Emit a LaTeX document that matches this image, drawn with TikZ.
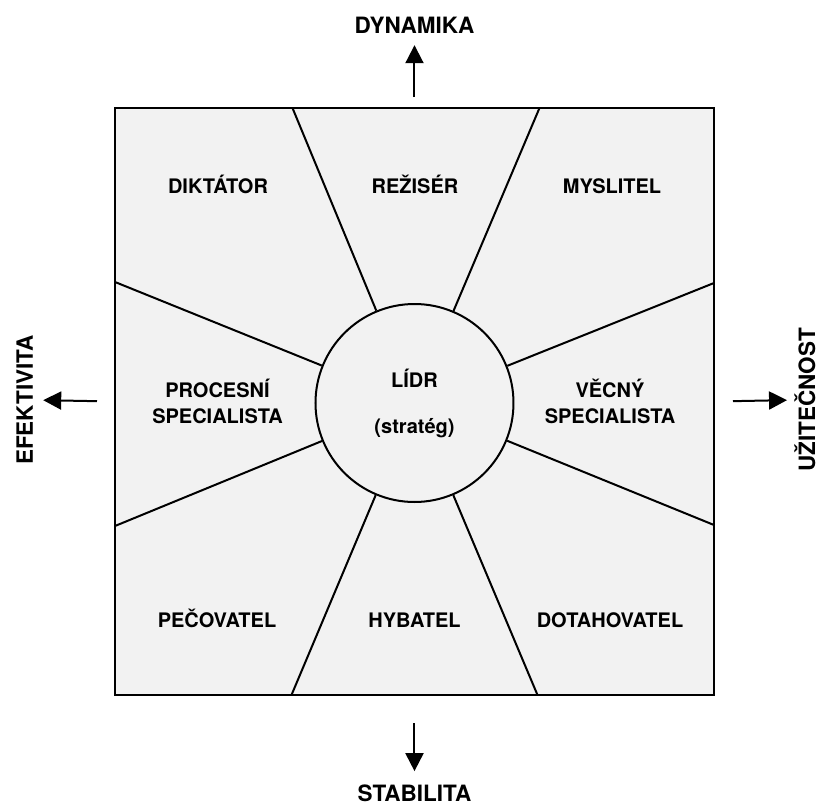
\documentclass[tikz,border=0pt]{standalone}
\usepackage{fontspec}
\setmainfont{TeX Gyre Heros}
\usepackage{tikz}
\usetikzlibrary{arrows.meta,positioning}
\definecolor{stipple}{gray}{0.95}

\begin{document}
\begin{tikzpicture}[x=10pt, y=10pt,
    divider/.style={line width=2pt},
    rolename/.style={font=\bfseries\fontsize{20}{26}\selectfont, align=center, inner sep=0pt},
    axisname/.style={font=\bfseries\fontsize{22.5}{27}\selectfont, inner sep=0pt},
    axisarrow/.style={line width=2pt, -{Triangle[length=18pt,width=18pt]}}]
  \useasboundingbox (-41.45,-40.4) rectangle (40.55,40.3);

  % frame and the leader in the middle
  \node[draw, line width=2pt, fill=stipple, minimum width=599pt, minimum height=587pt, inner sep=0pt] (frame) at (0,0.15) {};
  \node[circle, draw, line width=2pt, minimum size=198pt, inner sep=0pt,
        font=\bfseries\fontsize{20}{46}\selectfont, align=center] (lidr) at (0,0) {LÍDR\\(stratég)};

  % dividers from the circle out to the frame
  \foreach \x/\y [count=\i] in {-12.2/29.5, 12.5/29.5, 29.95/12.0, 29.95/-12.2,
                                12.3/-29.2, -12.3/-29.2, -29.95/-12.3, -29.95/12.1}
    \coordinate (b\i) at (\x,\y);
  \foreach \i in {1,...,8}
    \draw[divider] (lidr) -- (b\i);

  % top row
  \node[rolename, anchor=base] (diktator) at (-19.65,21) {DIKTÁTOR};
  \node[rolename, anchor=base] (reziser) at (0.05,21) {REŽISÉR};
  \node[rolename, anchor=base] (myslitel) at (19.75,21) {MYSLITEL};

  % middle row
  \node[rolename] (procesni) at (-19.7,0.2) {PROCESNÍ\\SPECIALISTA};
  \node[rolename] (vecny) at (19.55,0.2) {VĚCNÝ\\SPECIALISTA};

  % bottom row
  \node[rolename, anchor=base] (pecovatel) at (-19.75,-22.4) {PEČOVATEL};
  \node[rolename, anchor=base] (hybatel) at (0,-22.4) {HYBATEL};
  \node[rolename, anchor=base] (dotahovatel) at (19.55,-22.4) {DOTAHOVATEL};

  % axes
  \node[axisname, anchor=base] (dynamika) at (0,37) {DYNAMIKA};
  \node[axisname, anchor=base] (stabilita) at (0,-39.8) {STABILITA};
  \node[axisname, anchor=base, rotate=90] (efektivita) at (-38.15,0.3) {EFEKTIVITA};
  \node[axisname, anchor=base, rotate=90] (uzitecnost) at (40.05,0.3) {UŽITEČNOST};

  \draw[axisarrow, shorten <=10pt, shorten >=12pt] (frame.north) -- (dynamika.south);
  \draw[axisarrow, shorten <=27pt, shorten >=13pt] (frame.south) -- (stabilita.north);
  \draw[axisarrow, shorten <=17pt, shorten >=10pt] (frame.west) -- (efektivita.south);
  \draw[axisarrow, shorten <=18pt, shorten >=7pt] (frame.east) -- (uzitecnost.north);
\end{tikzpicture}
\end{document}
